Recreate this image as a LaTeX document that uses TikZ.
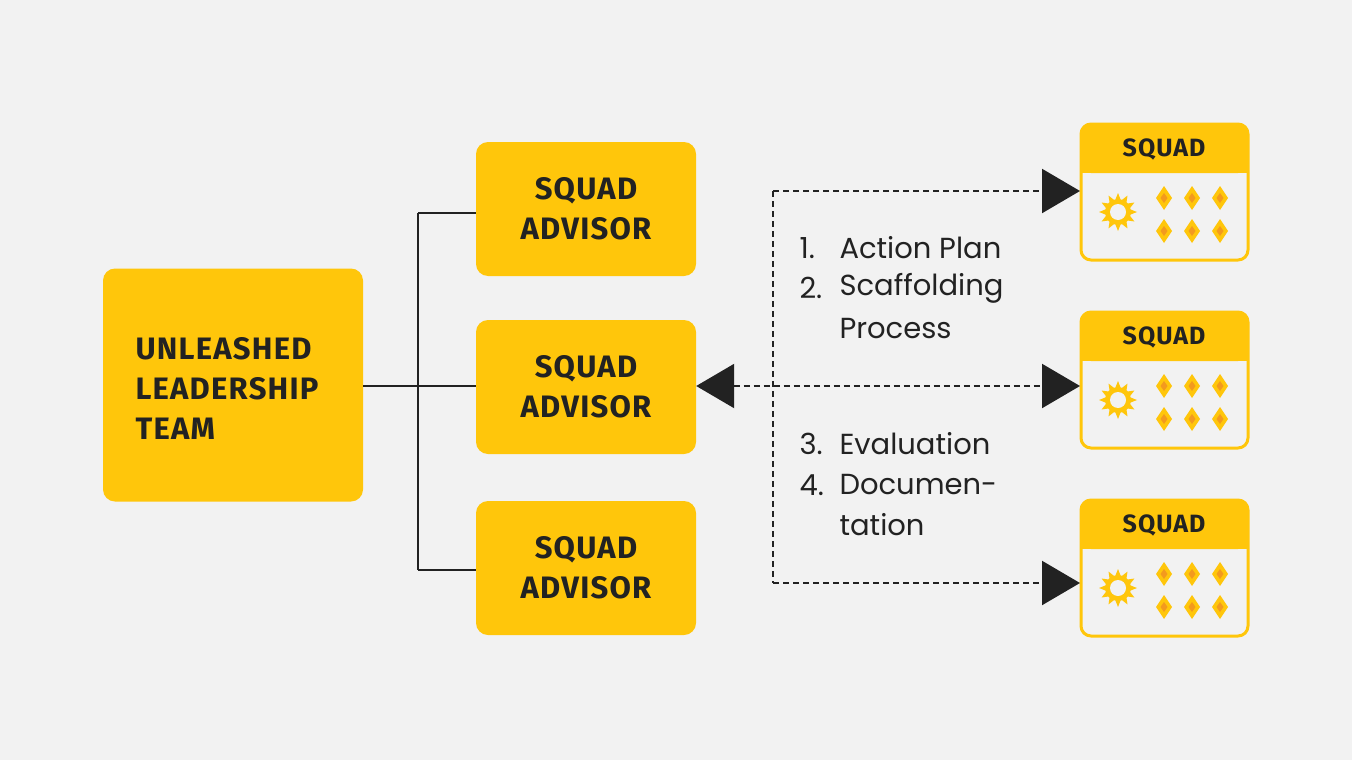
\documentclass[tikz,border=0pt]{standalone}
\usepackage{fontspec}
\setmainfont{Poppins}
\newfontfamily\headfont[LetterSpace=4]{Fira Sans}
\usetikzlibrary{positioning,arrows.meta,calc}
\definecolor{sqyellow}{HTML}{FFC60B}
\definecolor{sqdark}{HTML}{222222}
\definecolor{sqbg}{HTML}{F2F2F2}
\definecolor{sqorange}{HTML}{F39A1E}
\tikzset{
  ybox/.style={fill=sqyellow,rounded corners=12pt,inner sep=0pt},
  btext/.style={font=\headfont\bfseries\fontsize{31}{40}\selectfont,text=sqdark,align=center},
  link/.style={sqdark,line width=2.6pt},
  dlink/.style={sqdark,line width=2.2pt,dash pattern=on 6pt off 4pt},
  bigtip/.style={-{Triangle[length=38pt,width=44pt]}},
  ltext/.style={font=\fontsize{29}{40}\selectfont,text=sqdark,anchor=west}
}
\newcommand\squadcard[2]{% name, top y
  \begin{scope}[shift={(0,#2)}]
  \draw[sqyellow,line width=3pt,fill=sqbg,rounded corners=10pt] (1081,0) rectangle (1248,136);
  \fill[sqyellow,rounded corners=10pt] (1081,0) rectangle (1248,49);
  \fill[sqyellow] (1081,25) rectangle (1248,49);
  \node[font=\headfont\bfseries\fontsize{25}{30}\selectfont,text=sqdark] (#1) at (1164,25) {SQUAD};
  \coordinate (#1-in) at (1080,67);
  \begin{scope}[shift={(1118,88)}]
    \fill[sqyellow] (0,0) circle (13);
    \foreach \a in {0,30,...,330}
      \fill[sqyellow] (\a-14:12) -- (\a:19) -- (\a+14:12) -- cycle;
    \fill[sqbg] (0,0) circle (8);
  \end{scope}
  \foreach \dx in {1164,1192,1220}
    \foreach \dy in {74,107}{
      \fill[sqyellow] (\dx,\dy-12) -- (\dx+8,\dy) -- (\dx,\dy+12) -- (\dx-8,\dy) -- cycle;
      \fill[sqorange] (\dx,\dy-5) -- (\dx+3.5,\dy) -- (\dx,\dy+5) -- (\dx-3.5,\dy) -- cycle;
    }
  \end{scope}
}
\begin{document}
\begin{tikzpicture}[x=1pt,y=-1pt]
\fill[sqbg] (0,0) rectangle (1352,760);
\useasboundingbox (0,0) rectangle (1352,760);
% leadership
\node[ybox,minimum width=260pt,minimum height=233pt] (team) at (233,385) {};
\node[btext,align=left,anchor=west] (teamtext) at (132,388) {UNLEASHED\\LEADERSHIP\\TEAM};
% advisors
\node[ybox,minimum width=220pt,minimum height=134pt] (adv1) at (586,209) {};
\node[ybox,minimum width=220pt,minimum height=134pt] (adv2) at (586,387) {};
\node[ybox,minimum width=220pt,minimum height=134pt] (adv3) at (586,568) {};
\node[btext] at (adv1) {SQUAD\\ADVISOR};
\node[btext] at (adv2) {SQUAD\\ADVISOR};
\node[btext] at (adv3) {SQUAD\\ADVISOR};
% tree
\coordinate (fork) at (418,386);
\coordinate (top) at (418,213);
\coordinate (bot) at (418,570);
\draw[link] (team.east |- fork) -- (fork);
\draw[link] (top) -- (bot);
\draw[link] (top) -- (adv1.west |- top);
\draw[link] (fork) -- (adv2.west |- fork);
\draw[link] (bot) -- (adv3.west |- bot);
% squads
\squadcard{sq1}{124}
\squadcard{sq2}{312}
\squadcard{sq3}{500}
% dashed links
\coordinate (split) at (773,386);
\coordinate (dtop) at (773,191);
\coordinate (dbot) at (773,583);
\draw[dlink] (dtop) -- (dbot);
\draw[dlink,bigtip] (dtop) -- (sq1-in |- dtop);
\draw[dlink,bigtip] (dbot) -- (sq3-in |- dbot);
\draw[dlink,{Triangle[length=38pt,width=44pt]}-{Triangle[length=38pt,width=44pt]}] (adv2.east |- split) -- (sq2-in |- split);
% steps
\node[ltext] (n1) at (796,248) {1.};
\node[ltext] (s1) at (836,248) {Action Plan};
\node[ltext] (n2) at (796,288) {2.};
\node[ltext] (s2) at (836,288) {Scaffolding};
\node[ltext] (s2b) at (836,329) {Process};
\node[ltext] (n3) at (796,444) {3.};
\node[ltext] (s3) at (836,444) {Evaluation};
\node[ltext] (n4) at (796,485) {4.};
\node[ltext] (s4) at (836,485) {Documen-};
\node[ltext] (s4b) at (836,525) {tation};
\end{tikzpicture}
\end{document}
